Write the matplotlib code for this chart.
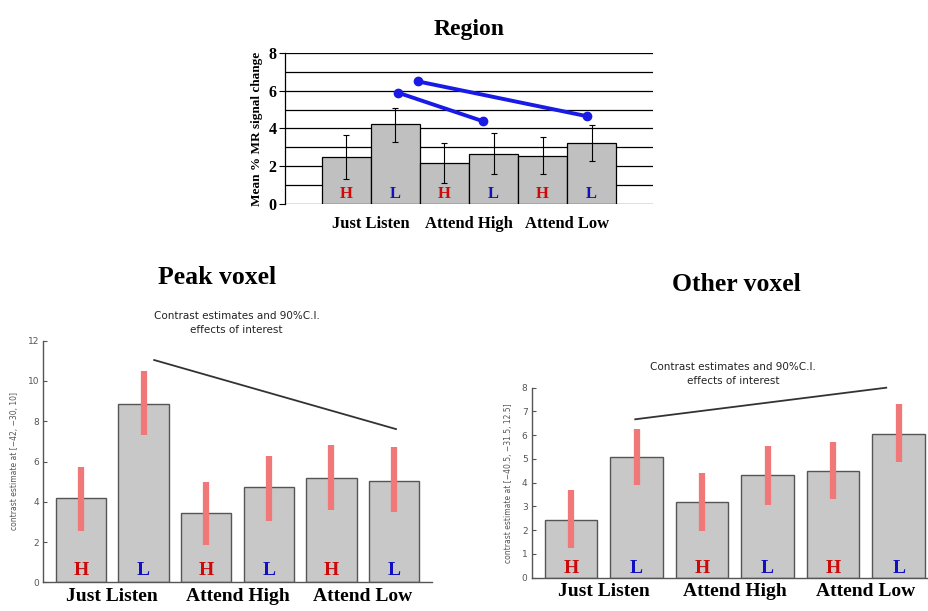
import matplotlib
matplotlib.use("Agg")
import matplotlib.pyplot as plt
import numpy as np

# ---------------- data ----------------
categories = ["Just Listen", "Attend High", "Attend Low"]
conds = ["H", "L", "H", "L", "H", "L"]

region_means = [2.47, 4.23, 2.18, 2.66, 2.54, 3.21]
region_hi = [3.65, 5.06, 3.21, 3.77, 3.54, 4.21]
region_lo = [1.32, 3.26, 1.13, 1.59, 1.59, 2.26]
region_line1_x = [1.05, 2.78]
region_line1_y = [5.90, 4.39]
region_line2_x = [1.45, 4.91]
region_line2_y = [6.50, 4.65]

peak_means = [4.17, 8.87, 3.43, 4.73, 5.16, 5.05]
peak_hi = [5.74, 10.49, 4.97, 6.27, 6.80, 6.72]
peak_lo = [2.55, 7.30, 1.85, 3.06, 3.57, 3.49]
peak_line_x = [1.17, 5.03]
peak_line_y = [11.04, 7.61]

other_means = [2.43, 5.09, 3.20, 4.31, 4.49, 6.06]
other_hi = [3.69, 6.26, 4.42, 5.54, 5.73, 7.30]
other_lo = [1.24, 3.89, 1.98, 3.06, 3.30, 4.88]
other_line_x = [0.98, 4.81]
other_line_y = [6.67, 8.00]

SERIF = ["Liberation Serif", "DejaVu Serif"]
RED = "#cc0a0a"
BLUE = "#1010c0"
cond_colors = {"H": RED, "L": BLUE}

W, H = 929, 611
fig = plt.figure(figsize=(W / 100, H / 100), dpi=100)
fig.patch.set_facecolor("white")


def px_axes(left, top, right, bottom):
    return fig.add_axes([left / W, 1 - bottom / H, (right - left) / W, (bottom - top) / H])


x = np.arange(len(conds))

# ---------------- Region (top) ----------------
ax = px_axes(285, 53, 653, 204)
ax.set_xlim(-1.255, 6.255)
ax.set_ylim(0, 8)
for yv in range(0, 9):
    ax.axhline(yv, color="black", lw=0.9, zorder=0)
means = np.array(region_means)
yerr = [means - np.array(region_lo), np.array(region_hi) - means]
ax.bar(x, means, width=1.0, color="#c0c0c0", edgecolor="black", lw=0.9, zorder=2)
ax.errorbar(x, means, yerr=yerr, fmt="none", ecolor="black", elinewidth=0.8,
            capsize=2, capthick=0.8, zorder=3)
ax.plot(region_line1_x, region_line1_y, color="#1a1ae6", lw=2.8, marker="o", ms=6, zorder=4)
ax.plot(region_line2_x, region_line2_y, color="#1a1ae6", lw=2.8, marker="o", ms=6, zorder=4)
for xi, c in zip(x, conds):
    ax.text(xi, 0.55, c, color=cond_colors[c], ha="center", va="center",
            fontsize=12, fontweight="bold", family=SERIF, zorder=5)
for s in ["top", "right", "bottom"]:
    ax.spines[s].set_visible(False)
ax.spines["left"].set_color("black")
ax.spines["left"].set_linewidth(0.9)
ax.set_yticks([0, 2, 4, 6, 8])
ax.set_yticklabels(["0", "2", "4", "6", "8"], fontsize=11.5, fontweight="bold", family=SERIF)
ax.tick_params(axis="y", length=4, width=0.8, pad=2)
ax.set_xticks([0.5, 2.5, 4.5])
ax.set_xticklabels(categories, fontsize=12, fontweight="bold", family=SERIF)
ax.tick_params(axis="x", length=0, pad=9)
ax.set_ylabel("Mean % MR signal change", fontsize=9.5, fontweight="bold", family=SERIF, labelpad=4)
ax.set_title("Region", fontsize=17, fontweight="bold", family=SERIF, pad=13)


def spm_panel(ax, means, hi, lo, line_x, line_y, yticks, ylabel, ylim, label_y, xpad):
    means = np.array(means)
    ax.set_xlim(-0.6, 5.6)
    ax.set_ylim(*ylim)
    ax.bar(x, means, width=0.8, color="#c8c8c8", edgecolor="#555555", lw=1.0, zorder=2)
    ax.vlines(x, lo, hi, color="#f07878", lw=4.5, zorder=3)
    ax.plot(line_x, line_y, color="#333333", lw=1.3, zorder=4, clip_on=False)
    for xi, c in zip(x, conds):
        ax.text(xi, label_y, c, color=cond_colors[c], ha="center", va="center",
                fontsize=14, fontweight="bold", family=SERIF, zorder=5)
    for s in ["top", "right"]:
        ax.spines[s].set_visible(False)
    for s in ["left", "bottom"]:
        ax.spines[s].set_color("#555555")
        ax.spines[s].set_linewidth(1.0)
    ax.set_yticks(yticks)
    ax.set_yticklabels([str(v) for v in yticks], fontsize=6.5, color="#555555")
    ax.tick_params(axis="y", direction="in", length=3, width=0.8, color="#555555", pad=3)
    ax.set_xticks([0.5, 2.5, 4.5])
    ax.set_xticklabels(categories, fontsize=14, fontweight="bold", family=SERIF)
    ax.tick_params(axis="x", length=0, pad=xpad)
    ax.set_ylabel(ylabel, fontsize=5.5, color="#555555", labelpad=6)


# ---------------- Peak voxel ----------------
ax2 = px_axes(43.3, 340.7, 431.7, 582.3)
spm_panel(ax2, peak_means, peak_hi, peak_lo, peak_line_x, peak_line_y,
          [0, 2, 4, 6, 8, 10, 12], "contrast estimate at [\u221242, \u221230, 10]",
          (0, 12), 0.6, 4)
fig.text(236.7 / W, 1 - 323 / H, "Contrast estimates and 90%C.I.\neffects of interest",
         ha="center", va="center", fontsize=7.5, color="#222222", linespacing=1.5)
fig.text(217.5 / W, 1 - 277 / H, "Peak voxel", ha="center", va="center",
         fontsize=18.5, fontweight="bold", family=SERIF)

# ---------------- Other voxel ----------------
ax3 = px_axes(531.7, 387.7, 938, 577.7)
spm_panel(ax3, other_means, other_hi, other_lo, other_line_x, other_line_y,
          [0, 1, 2, 3, 4, 5, 6, 7, 8], "contrast estimate at [\u221240.5, \u221231.5, 12.5]",
          (0, 8), 0.38, 4)
fig.text(733.3 / W, 1 - 374 / H, "Contrast estimates and 90%C.I.\neffects of interest",
         ha="center", va="center", fontsize=7.5, color="#222222", linespacing=1.5)
fig.text(736.7 / W, 1 - 284 / H, "Other voxel", ha="center", va="center",
         fontsize=18.5, fontweight="bold", family=SERIF)

fig.savefig("out.png", dpi=100, facecolor="white")
